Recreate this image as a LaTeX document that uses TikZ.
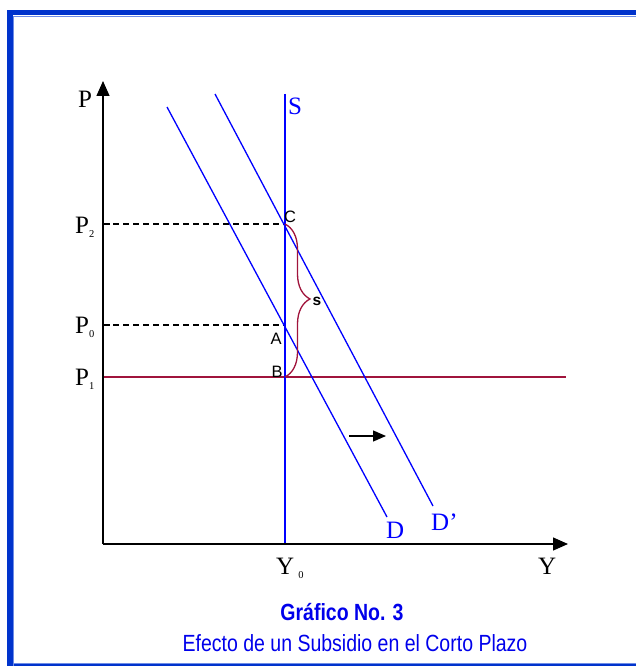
\documentclass[tikz,border=0pt]{standalone}
\usepackage{fontspec}
\setmainfont{Liberation Serif}
\newfontfamily\arial{Liberation Sans}
\usetikzlibrary{arrows.meta,decorations.pathreplacing}
\definecolor{frameblue}{RGB}{0,51,204}
\definecolor{framelight}{RGB}{110,140,230}
\definecolor{lineblue}{RGB}{0,0,255}
\definecolor{maroon}{RGB}{160,20,60}
\definecolor{capblue}{RGB}{0,0,235}
\tikzset{
  axis/.style={line width=1.3pt,black},
  curve/.style={line width=1.3pt,lineblue},
  guide/.style={line width=1.2pt,black,dash pattern=on 6pt off 4pt},
  lbl/.style={inner sep=0pt,font=\fontsize{25}{25}\selectfont},
  pt/.style={inner sep=0pt,font=\arial\fontsize{16.5}{16.5}\selectfont},
}
\newcommand{\sbs}[1]{{\fontsize{10.5}{10.5}\selectfont\raisebox{-4pt}{#1}}}
\begin{document}
\begin{tikzpicture}[x=1pt,y=-1pt]
\useasboundingbox (0,0) rectangle (636,666);
% frame
\fill[frameblue] (6.5,10) rectangle (12.7,666);
\fill[frameblue] (6.5,10) rectangle (636,15.2);
\draw[framelight,line width=0.9pt] (13.8,666) -- (13.8,16.6) -- (636,16.6);
\fill[frameblue] (13.8,663.8) rectangle (636,666);
\draw[framelight,line width=0.6pt] (13.8,663.6) -- (636,663.6);
% coordinates
\coordinate (O) at (103,544);
\coordinate (ytop) at (103,81);
\coordinate (xend) at (568,544);
\coordinate (Stop) at (285,94);
\coordinate (Sbot) at (285,544);
\coordinate (Dtop) at (167,107);
\coordinate (Dbot) at (387,517);
\coordinate (D2top) at (215,94);
\coordinate (D2bot) at (433,506);
\coordinate (C) at (285,224);
\coordinate (A) at (285,325);
\coordinate (B) at (285,377);
\coordinate (P2ax) at (103,224);
\coordinate (P0ax) at (103,325);
\coordinate (P1ax) at (103,377);
\coordinate (P1end) at (566,377);
\coordinate (arS) at (349,436);
\coordinate (arE) at (386,436);
% dashed guides
\draw[guide] (P2ax) -- (C);
\draw[guide] (P0ax) -- (A);
\draw[line width=2.6pt] (P2ax) -- ++(7,0);
\draw[line width=2.6pt] (P0ax) -- ++(7,0);
% P1 line
\draw[maroon,line width=1.4pt] (P1ax) -- (P1end);
% curves
\draw[curve] (Stop) -- (Sbot);
\draw[curve] (Dtop) -- (Dbot);
\draw[curve] (D2top) -- (D2bot);
% brace
\draw[maroon,line width=1.3pt,decorate,decoration={brace,amplitude=25pt,aspect=0.49}] (C) -- (B);
% shift arrow
\draw[line width=1.3pt,-{Triangle[length=13pt,width=11pt]}] (arS) -- (arE);
% axes
\draw[axis,-{Triangle[length=15pt,width=13pt]}] (O) -- (ytop);
\draw[axis,-{Triangle[length=15pt,width=13pt]}] (O) -- (xend);
% labels
\node[lbl,anchor=base] (lP) at (85,108) {P};
\node[lbl,anchor=base,lineblue] (lS) at (295,115) {S};
\node[lbl,anchor=base west] (lP2) at (75,233) {P\sbs{2}};
\node[lbl,anchor=base west] (lP0) at (75,333) {P\sbs{0}};
\node[lbl,anchor=base west] (lP1) at (75,385) {P\sbs{1}};
\node[lbl,anchor=base west] (lY0) at (276,574) {Y\,\sbs{0}};
\node[lbl,anchor=base west] (lY) at (538,574) {Y};
\node[lbl,anchor=base west,lineblue] (lD) at (386,538) {D};
\node[lbl,anchor=base west,lineblue] (lD2) at (431,530) {D’};
\node[pt,anchor=base] (lC) at (290,222) {C};
\node[pt,anchor=base] (lA) at (276,344) {A};
\node[pt,anchor=base] (lB) at (277,377) {B};
\node[pt,anchor=base,font=\arial\bfseries\fontsize{15.5}{15.5}\selectfont] (ls) at (317,305) {s};
% caption
\node[inner sep=0pt,anchor=base,capblue,font=\arial\bfseries\fontsize{19.5}{19.5}\selectfont] (t1) at (342,620) {\scalebox{1}[1.2]{Gráfico No. 3}};
\node[inner sep=0pt,anchor=base,capblue,font=\arial\fontsize{19.5}{19.5}\selectfont] (t2) at (355,651) {\scalebox{1}[1.2]{Efecto de un Subsidio en el Corto Plazo}};
\end{tikzpicture}
\end{document}
